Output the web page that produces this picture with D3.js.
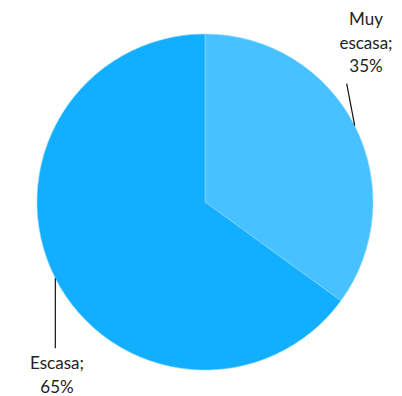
<!DOCTYPE html>
<html>
<head>
<meta charset="utf-8">
<script src="https://cdn.jsdelivr.net/npm/d3@7"></script>
<style>
  body { margin: 0; background: #fff; }
  text { font-family: Lato, "Open Sans", sans-serif; font-size: 17px; fill: #222; }
</style>
</head>
<body>
<div id="chart"></div>
<script>
const w = 402
const h = 396

// categories and values
const categories = ["Muy escasa", "Escasa"]
const values = [35, 65]
const colors = ["#47C1FF", "#12AEFF"]
// label text lines per slice
const labelLines = [["Muy", "escasa;", "35%"], ["Escasa;", "65%"]]

const cx = 205
const cy = 202
const radius = 168

const svg = d3.select("#chart")
  .append("svg")
    .attr("width", w)
    .attr("height", h)

const g = svg.append("g")
  .attr("transform", `translate(${cx},${cy})`)

const pie = d3.pie().sort(null).value(d => d)
const arcs = pie(values)

const arc = d3.arc().innerRadius(0).outerRadius(radius)

g.selectAll("path.slice")
  .data(arcs)
  .enter().append("path")
    .attr("class", "slice")
    .attr("d", arc)
    .attr("fill", (d, i) => colors[i])
    .attr("stroke", "#8fd8ff")
    .attr("stroke-width", 0.6)

// leader lines start on the rim at the middle of each slice
const leaderEnd = [[-8, -42], [0, 70]]
const labelPos = [[161, -177], [-148, 167]]
const lineStep = 23.5

arcs.forEach((d, i) => {
  const a = (d.startAngle + d.endAngle) / 2
  const x0 = Math.sin(a) * radius
  const y0 = -Math.cos(a) * radius
  g.append("line")
    .attr("x1", x0)
    .attr("y1", y0)
    .attr("x2", x0 + leaderEnd[i][0])
    .attr("y2", y0 + leaderEnd[i][1])
    .attr("stroke", "#111")
    .attr("stroke-width", 1.2)

  const t = g.append("text")
    .attr("text-anchor", "middle")
    .attr("x", labelPos[i][0])
    .attr("y", labelPos[i][1])
  labelLines[i].forEach((s, j) => {
    t.append("tspan")
      .attr("x", labelPos[i][0])
      .attr("dy", j === 0 ? 0 : lineStep)
      .text(s)
  })
})
</script>
</body>
</html>
